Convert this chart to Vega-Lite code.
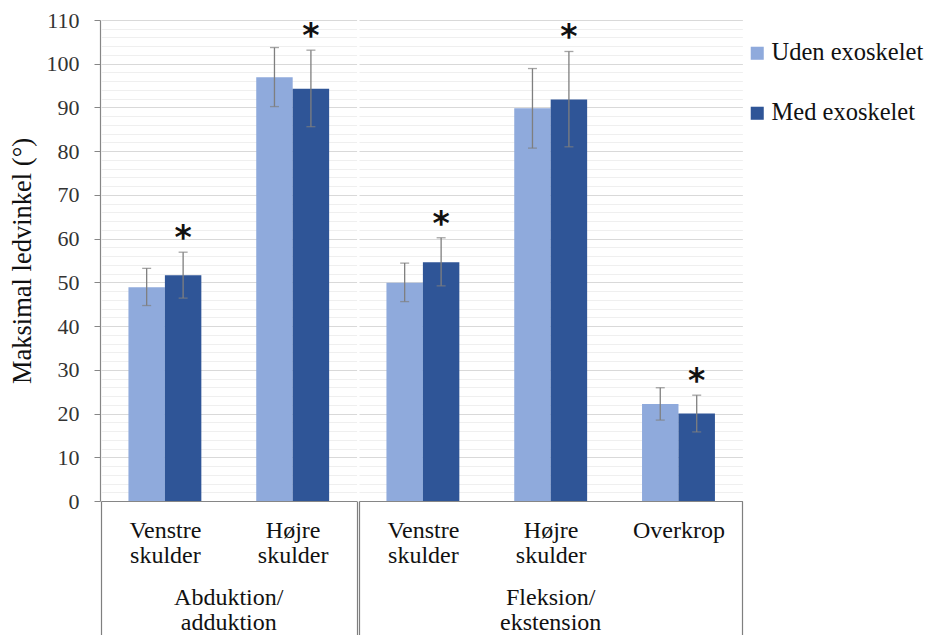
{
  "$schema": "https://vega.github.io/schema/vega-lite/v6.json",
  "padding": {"left": 9, "top": 9, "right": 5, "bottom": 0},
  "config": {
    "font": "Liberation Serif",
    "view": {"stroke": null},
    "facet": {"spacing": 0}
  },
  "data": {
    "values": [
      {"group": "Abduktion/ adduktion", "cat": "Venstre skulder", "series": "Uden exoskelet", "value": 48.9, "lo": 44.7, "hi": 53.2, "sig": ""},
      {"group": "Abduktion/ adduktion", "cat": "Venstre skulder", "series": "Med exoskelet", "value": 51.6, "lo": 46.4, "hi": 56.9, "sig": "*"},
      {"group": "Abduktion/ adduktion", "cat": "Højre skulder", "series": "Uden exoskelet", "value": 96.9, "lo": 90.2, "hi": 103.7, "sig": ""},
      {"group": "Abduktion/ adduktion", "cat": "Højre skulder", "series": "Med exoskelet", "value": 94.3, "lo": 85.6, "hi": 103.1, "sig": "*"},
      {"group": "Fleksion/ ekstension", "cat": "Venstre skulder", "series": "Uden exoskelet", "value": 49.9, "lo": 45.6, "hi": 54.4, "sig": ""},
      {"group": "Fleksion/ ekstension", "cat": "Venstre skulder", "series": "Med exoskelet", "value": 54.6, "lo": 49.2, "hi": 60.2, "sig": "*"},
      {"group": "Fleksion/ ekstension", "cat": "Højre skulder", "series": "Uden exoskelet", "value": 89.8, "lo": 80.7, "hi": 98.9, "sig": ""},
      {"group": "Fleksion/ ekstension", "cat": "Højre skulder", "series": "Med exoskelet", "value": 91.8, "lo": 81.0, "hi": 102.8, "sig": "*"},
      {"group": "Fleksion/ ekstension", "cat": "Overkrop", "series": "Uden exoskelet", "value": 22.2, "lo": 18.5, "hi": 25.9, "sig": ""},
      {"group": "Fleksion/ ekstension", "cat": "Overkrop", "series": "Med exoskelet", "value": 20.0, "lo": 15.8, "hi": 24.2, "sig": "*"}
    ]
  },
  "facet": {
    "column": {
      "field": "group",
      "type": "nominal",
      "title": null,
      "header": {
        "labelOrient": "bottom",
        "labelFont": "Liberation Serif",
        "labelFontSize": 24,
        "labelColor": "#111111",
        "labelExpr": "split(datum.label, ' ')",
        "labelLineHeight": 25,
        "labelPadding": -50
      }
    }
  },
  "resolve": {"scale": {"x": "independent"}},
  "spec": {
    "width": {"step": 36.45},
    "height": 481,
    "encoding": {
      "x": {
        "field": "cat",
        "type": "nominal",
        "sort": ["Venstre skulder", "Højre skulder", "Overkrop"],
        "scale": {"paddingInner": 0, "paddingOuter": 0},
        "axis": {
          "title": null,
          "labelAngle": 0,
          "labelFont": "Liberation Serif",
          "labelFontSize": 24,
          "labelColor": "#111111",
          "labelLineHeight": 25,
          "labelExpr": "split(datum.label, ' ')",
          "labelPadding": -117,
          "tickBand": "extent",
          "tickSize": 134,
          "tickColor": "#7f7f7f",
          "tickWidth": 1.2,
          "tickOpacity": {"condition": {"test": "datum.index === 1 || datum.extra != null", "value": 1}, "value": 0},
          "domainColor": "#868686",
          "domainWidth": 1.2,
          "grid": false
        }
      },
      "xOffset": {
        "field": "series",
        "type": "nominal",
        "sort": ["Uden exoskelet", "Med exoskelet"],
        "scale": {"paddingInner": 0, "paddingOuter": 0.753}
      }
    },
    "layer": [
      {
        "mark": {"type": "bar"},
        "encoding": {
          "y": {
            "field": "value",
            "type": "quantitative",
            "scale": {"domain": [0, 110]},
            "axis": {
              "title": "Maksimal ledvinkel (°)",
              "titleFont": "Liberation Serif",
              "titleFontSize": 26.5,
              "titleFontWeight": "normal",
              "titleColor": "#111111",
              "titlePadding": 10,
              "values": [0,2,4,6,8,10,12,14,16,18,20,22,24,26,28,30,32,34,36,38,40,42,44,46,48,50,52,54,56,58,60,62,64,66,68,70,72,74,76,78,80,82,84,86,88,90,92,94,96,98,100,102,104,106,108,110],
              "tickCount": 60,
              "labelExpr": "datum.value % 10 === 0 ? datum.label : ''",
              "labelOverlap": false,
              "labelFont": "Liberation Serif",
              "labelFontSize": 22,
              "labelColor": "#333333",
              "labelPadding": 15,
              "tickSize": 6,
              "tickColor": "#868686",
              "tickOpacity": {"condition": {"test": "datum.value % 10 === 0", "value": 1}, "value": 0},
              "domainColor": "#868686",
              "domainWidth": 1.2,
              "grid": true,
              "gridColor": {"condition": {"test": "datum.value % 10 === 0", "value": "#d9d9d9"}, "value": "#efefef"},
              "gridWidth": 1.2
            }
          },
          "color": {
            "field": "series",
            "type": "nominal",
            "scale": {"domain": ["Uden exoskelet", "Med exoskelet"], "range": ["#8FAADC", "#2F5597"]},
            "legend": {
              "title": null,
              "orient": "none",
              "legendX": 644,
              "legendY": 21,
              "symbolType": "square",
              "symbolSize": 170,
              "symbolStrokeWidth": 0,
              "labelFont": "Liberation Serif",
              "labelFontSize": 24.5,
              "labelColor": "#111111",
              "rowPadding": 35,
              "labelOffset": 2
            }
          }
        }
      },
      {
        "mark": {"type": "rule", "color": "#7f7f7f", "strokeWidth": 1.3},
        "encoding": {
          "y": {"field": "lo", "type": "quantitative"},
          "y2": {"field": "hi"}
        }
      },
      {
        "mark": {"type": "tick", "color": "#7f7f7f", "size": 9, "thickness": 1.3, "orient": "horizontal"},
        "encoding": {"y": {"field": "lo", "type": "quantitative"}}
      },
      {
        "mark": {"type": "tick", "color": "#7f7f7f", "size": 9, "thickness": 1.3, "orient": "horizontal"},
        "encoding": {"y": {"field": "hi", "type": "quantitative"}}
      },
      {
        "mark": {"type": "text", "font": "DejaVu Sans", "fontWeight": "bold", "fontSize": 33, "baseline": "alphabetic", "dy": -3, "color": "#111111"},
        "encoding": {
          "y": {"field": "hi", "type": "quantitative"},
          "text": {"field": "sig"}
        }
      }
    ]
  }
}
